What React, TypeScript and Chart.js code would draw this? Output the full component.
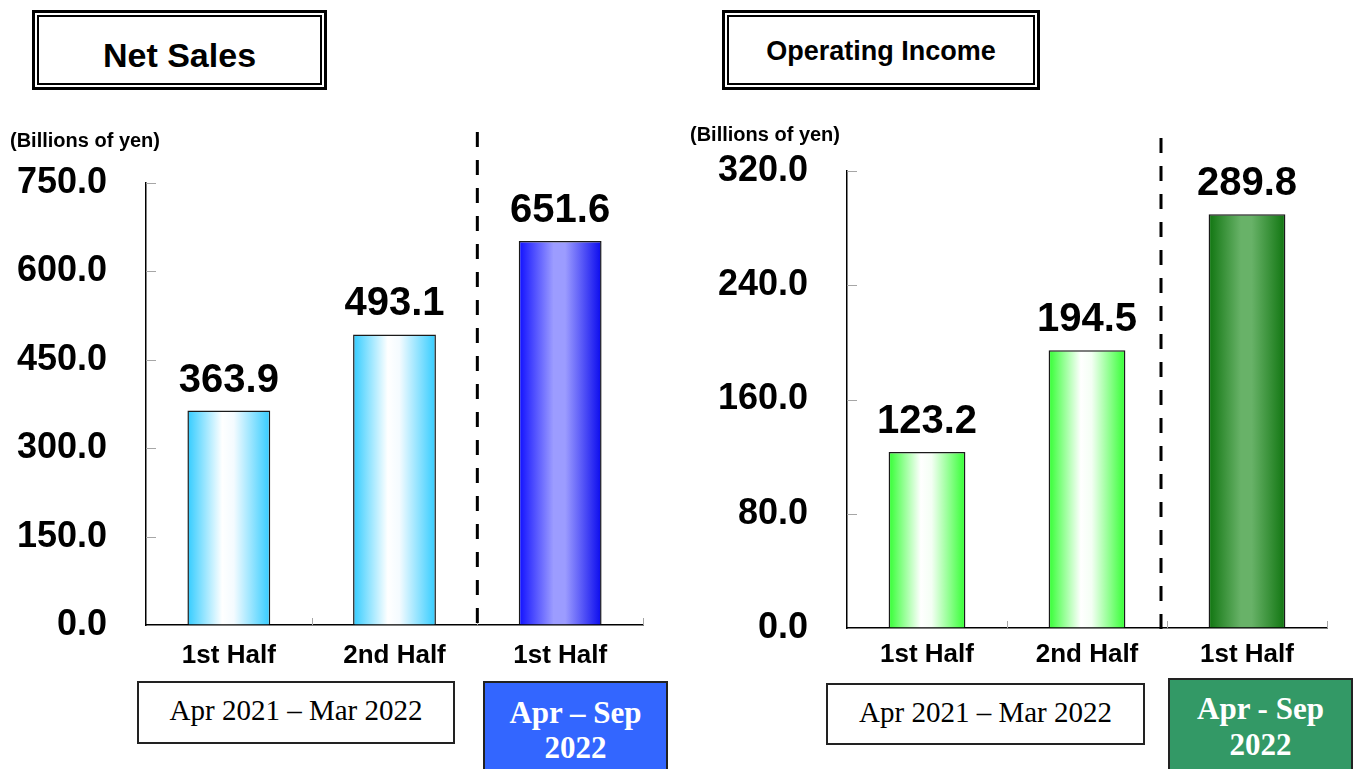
import React, { useEffect, useRef } from "react";
import { Chart, registerables } from "chart.js";

Chart.register(...registerables);

const categories = ["1st Half", "2nd Half", "1st Half"];
const salesValues = [363.9, 493.1, 651.6];
const incomeValues = [123.2, 194.5, 289.8];
const salesTicks = { max: 750, step: 150 };
const incomeTicks = { max: 320, step: 80 };

const salesGradients = [
  ["#33ccff", "#ffffff", "#f4fbff", "#33ccff"],
  ["#33ccff", "#ffffff", "#f4fbff", "#33ccff"],
  ["#1010ff", "#9c9cff", "#9c9cff", "#0a0aee"],
];
const incomeGradients = [
  ["#33ff33", "#ffffff", "#f4fff4", "#33ff33"],
  ["#33ff33", "#ffffff", "#f4fff4", "#33ff33"],
  ["#107510", "#68b268", "#68b268", "#107510"],
];

const SANS = "'Liberation Sans', Arial, Helvetica, sans-serif";
const SERIF = "'Liberation Serif', 'Times New Roman', serif";

type PanelProps = {
  left: number;
  width: number;
  values: number[];
  max: number;
  step: number;
  gradients: string[][];
  chartLeft: number;
  chartRight: number;
  chartTop: number;
  chartBottom: number;
  barFrac: number;
  xPad: number;
  dashTop: number;
  dashBottom: number;
  dashShift: number;
};

const H = 769;

function ChartPanel(p: PanelProps) {
  const ref = useRef<HTMLCanvasElement | null>(null);
  useEffect(() => {
    if (!ref.current) return;
    const tickMarks = {
      id: "tickMarks",
      afterDraw(chart: any) {
        const ctx = chart.ctx;
        const ca = chart.chartArea;
        const ys = chart.scales.y;
        const xs = chart.scales.x;
        ctx.save();
        ctx.strokeStyle = "#a6a6a6";
        ctx.lineWidth = 1;
        ys.ticks.forEach((t: any) => {
          if (t.value === 0) return;
          const y = Math.round(ys.getPixelForValue(t.value)) + 0.5;
          ctx.beginPath();
          ctx.moveTo(ca.left, y);
          ctx.lineTo(ca.left + 10, y);
          ctx.stroke();
        });
        const n = categories.length;
        const cw = (ca.right - ca.left) / n;
        for (let i = 1; i <= n; i++) {
          const x = Math.round(ca.left + cw * i) + 0.5;
          ctx.beginPath();
          ctx.moveTo(x, ca.bottom);
          ctx.lineTo(x, ca.bottom - 7);
          ctx.stroke();
        }
        const dx = (xs.getPixelForValue(1) + xs.getPixelForValue(2)) / 2 + p.dashShift;
        ctx.strokeStyle = "#000";
        ctx.lineWidth = 3;
        ctx.setLineDash([15, 13]);
        ctx.beginPath();
        ctx.moveTo(dx, ca.top + p.dashTop);
        ctx.lineTo(dx, ca.bottom + p.dashBottom);
        ctx.stroke();
        ctx.restore();
      },
    };
    const dataLabels = {
      id: "dataLabels",
      afterDatasetsDraw(chart: any) {
        const ctx = chart.ctx;
        const meta = chart.getDatasetMeta(0);
        ctx.save();
        ctx.fillStyle = "#000";
        ctx.font = `bold 40px ${SANS}`;
        ctx.textAlign = "center";
        ctx.textBaseline = "alphabetic";
        meta.data.forEach((bar: any, i: number) => {
          ctx.fillText(p.values[i].toFixed(1), bar.x, bar.y - 19);
        });
        ctx.restore();
      },
    };
    const chart = new Chart(ref.current, {
      type: "bar",
      data: {
        labels: categories,
        datasets: [
          {
            data: p.values,
            backgroundColor: (c: any) => {
              const chart = c.chart;
              const xs = chart.scales && chart.scales.x;
              const g = p.gradients[c.dataIndex ?? 0] || p.gradients[0];
              if (!xs || c.dataIndex === undefined) return g[0];
              const center = xs.getPixelForValue(c.dataIndex);
              const half = ((xs.width / categories.length) * p.barFrac) / 2;
              if (!isFinite(center) || !isFinite(half) || half <= 0) return g[0];
              const lg = chart.ctx.createLinearGradient(center - half, 0, center + half, 0);
              lg.addColorStop(0, g[0]);
              lg.addColorStop(0.42, g[1]);
              lg.addColorStop(0.56, g[2]);
              lg.addColorStop(1, g[3]);
              return lg;
            },
            borderColor: "#1a1a1a",
            borderWidth: 1.5,
            borderSkipped: "bottom",
            categoryPercentage: 1,
            barPercentage: p.barFrac,
          },
        ],
      },
      options: {
        responsive: false,
        animation: false,
        devicePixelRatio: 1,
        layout: {
          padding: { top: p.chartTop, right: p.width - p.chartRight, bottom: 0, left: 0 },
        },
        plugins: { legend: { display: false }, tooltip: { enabled: false } },
        scales: {
          x: {
            type: "category",
            offset: true,
            grid: { display: true, drawOnChartArea: false, drawTicks: false },
            border: { display: true, color: "#000", width: 1.5 },
            ticks: {
              color: "#000",
              font: { family: SANS, size: 26, weight: "bold" },
              padding: p.xPad,
              maxRotation: 0,
              autoSkip: false,
            },
            afterFit: (s: any) => {
              s.height = H - p.chartBottom;
            },
          },
          y: {
            min: 0,
            max: p.max,
            grid: { display: true, drawOnChartArea: false, drawTicks: false },
            border: { display: true, color: "#000", width: 1.5 },
            ticks: {
              stepSize: p.step,
              color: "#000",
              font: { family: SANS, size: 36, weight: "bold" },
              padding: 39,
              callback: (v: any) => Number(v).toFixed(1),
            },
            afterFit: (s: any) => {
              s.width = p.chartLeft;
            },
          },
        },
      },
      plugins: [tickMarks, dataLabels],
    } as any);
    chart.update();
    return () => chart.destroy();
  }, []);
  return (
    <canvas
      ref={ref}
      width={p.width}
      height={H}
      style={{ position: "absolute", left: p.left, top: 0, width: p.width, height: H, display: "block" }}
    />
  );
}

function TitleBox({ left, width, text, size, shift }: { left: number; width: number; text: string; size: number; shift: number }) {
  return (
    <div
      style={{
        position: "absolute",
        left,
        top: 10,
        width,
        height: 80,
        boxSizing: "border-box",
        border: "3px solid #000",
        padding: 2,
        background: "#fff",
      }}
    >
      <div
        style={{
          width: "100%",
          height: "100%",
          boxSizing: "border-box",
          border: "2px solid #000",
          display: "flex",
          alignItems: "center",
          justifyContent: "center",
          fontFamily: SANS,
          fontWeight: "bold",
          fontSize: size,
          color: "#000",
          paddingTop: shift,
        }}
      >
        {text}
      </div>
    </div>
  );
}

export default function App() {
  return (
    <div
      style={{
        position: "fixed",
        left: 0,
        top: 0,
        width: 1358,
        height: 769,
        background: "#fff",
        overflow: "hidden",
      }}
    >
      <ChartPanel
        left={0}
        width={680}
        values={salesValues}
        max={salesTicks.max}
        step={salesTicks.step}
        gradients={salesGradients}
        chartLeft={146}
        chartRight={643}
        chartTop={183}
        chartBottom={625}
        barFrac={0.5}
        xPad={15}
        dashTop={-51}
        dashBottom={0}
        dashShift={0}
      />
      <ChartPanel
        left={680}
        width={678}
        values={incomeValues}
        max={incomeTicks.max}
        step={incomeTicks.step}
        gradients={incomeGradients}
        chartLeft={167}
        chartRight={647}
        chartTop={171}
        chartBottom={628}
        barFrac={0.48}
        xPad={11}
        dashTop={-33}
        dashBottom={2}
        dashShift={-6}
      />
      <TitleBox left={32} width={295} text="Net Sales" size={34} shift={10} />
      <TitleBox left={722} width={318} text="Operating Income" size={27} shift={3} />
      <div style={{ position: "absolute", left: 10, top: 128, fontFamily: SANS, fontWeight: "bold", fontSize: 20, lineHeight: "24px", color: "#000" }}>
        (Billions of yen)
      </div>
      <div style={{ position: "absolute", left: 690, top: 122, fontFamily: SANS, fontWeight: "bold", fontSize: 20, lineHeight: "24px", color: "#000" }}>
        (Billions of yen)
      </div>
      <div
        style={{
          position: "absolute", left: 137, top: 681, width: 318, height: 63, boxSizing: "border-box",
          border: "2px solid #222", display: "flex", alignItems: "center", justifyContent: "center",
          fontFamily: SERIF, fontSize: 29, color: "#000", background: "#fff", paddingBottom: 4,
        }}
      >
        Apr 2021 – Mar 2022
      </div>
      <div
        style={{
          position: "absolute", left: 483, top: 681, width: 185, height: 100, boxSizing: "border-box",
          border: "2px solid #222", background: "#3366ff", color: "#fff", fontFamily: SERIF,
          fontWeight: "bold", fontSize: 31, lineHeight: "35px", textAlign: "center", paddingTop: 12,
        }}
      >
        Apr – Sep
        <br />
        2022
      </div>
      <div
        style={{
          position: "absolute", left: 826, top: 683, width: 319, height: 62, boxSizing: "border-box",
          border: "2px solid #222", display: "flex", alignItems: "center", justifyContent: "center",
          fontFamily: SERIF, fontSize: 29, color: "#000", background: "#fff", paddingBottom: 4,
        }}
      >
        Apr 2021 – Mar 2022
      </div>
      <div
        style={{
          position: "absolute", left: 1168, top: 678, width: 185, height: 100, boxSizing: "border-box",
          border: "2px solid #222", background: "#339966", color: "#fff", fontFamily: SERIF,
          fontWeight: "bold", fontSize: 31, lineHeight: "36px", textAlign: "center", paddingTop: 11,
        }}
      >
        Apr - Sep
        <br />
        2022
      </div>
    </div>
  );
}
